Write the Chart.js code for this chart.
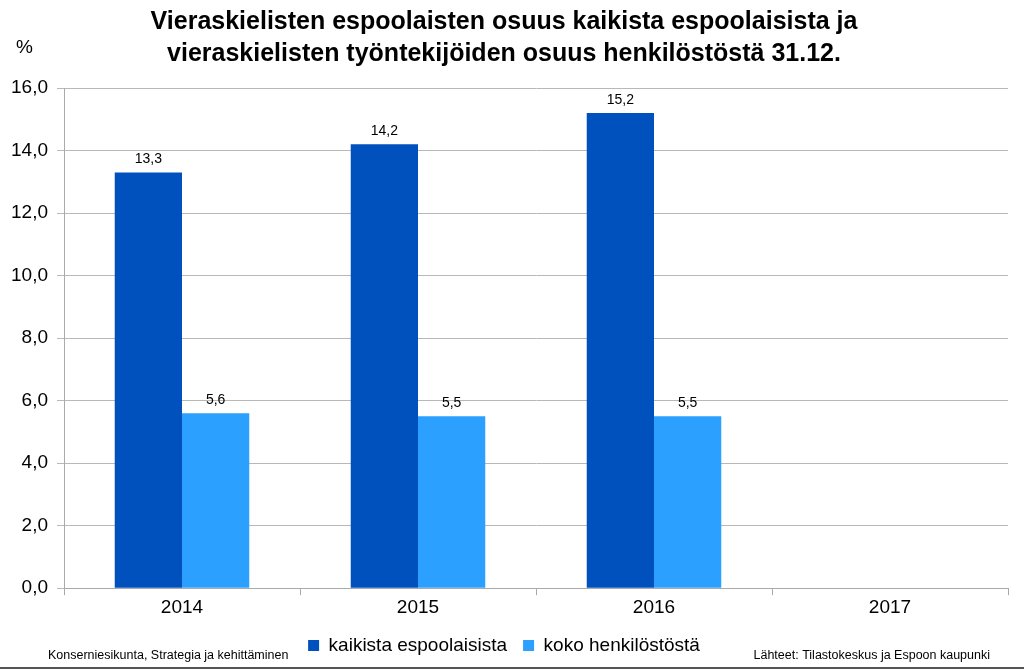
<!DOCTYPE html>
<html lang="fi">
<head>
<meta charset="UTF-8">
<title>Vieraskieliset Espoossa</title>
<script src="https://cdn.jsdelivr.net/npm/chart.js"></script>
<style>
  html, body { margin: 0; padding: 0; background: #fff; }
  #wrap { width: 1024px; height: 670px; position: relative; }
</style>
</head>
<body>
<div id="wrap"><canvas id="myChart" width="1024" height="670"></canvas></div>
<script>
const years = ['2014', '2015', '2016', '2017'];
const allResidents = [13.3, 14.2, 15.2, null];
const staff = [5.6, 5.5, 5.5, null];
const seriesNames = ['kaikista espoolaisista', 'koko henkilöstöstä'];
const titleLines = [
    'Vieraskielisten espoolaisten osuus kaikista espoolaisista ja',
    'vieraskielisten työntekijöiden osuus henkilöstöstä 31.12.'
];
const footLeft = 'Konserniesikunta, Strategia ja kehittäminen';
const footRight = 'Lähteet: Tilastokeskus ja Espoon kaupunki';

const FONT = '"Liberation Sans", Arial, sans-serif';
const fmt = v => v.toFixed(1).replace('.', ',');

// labels above bars, plus the footer texts and % sign
const extras = {
    id: 'extras',
    afterDatasetsDraw(chart) {
        const ctx = chart.ctx;
        ctx.save();
        ctx.fillStyle = '#000';
        ctx.font = '14px ' + FONT;
        ctx.textAlign = 'center';
        ctx.textBaseline = 'bottom';
        chart.data.datasets.forEach((ds, i) => {
            chart.getDatasetMeta(i).data.forEach((bar, j) => {
                if (ds.data[j] == null) return;
                ctx.fillText(fmt(ds.data[j]), bar.x, bar.y - 6);
            });
        });
        ctx.restore();
    },
    afterDraw(chart) {
        const ctx = chart.ctx;
        ctx.save();
        ctx.fillStyle = '#000';
        ctx.font = '19px ' + FONT;
        ctx.textAlign = 'left';
        ctx.textBaseline = 'middle';
        ctx.fillText('%', 16, 48);
        ctx.font = '12.5px ' + FONT;
        ctx.fillText(footLeft, 48, 656);
        ctx.textAlign = 'right';
        ctx.fillText(footRight, 990, 656);
        ctx.strokeStyle = '#555';
        ctx.lineWidth = 2;
        ctx.beginPath();
        ctx.moveTo(0, 668);
        ctx.lineTo(1024, 668);
        ctx.stroke();
        ctx.restore();
    }
};

new Chart(document.getElementById('myChart'), {
    type: 'bar',
    data: {
        labels: years,
        datasets: [{
            label: seriesNames[0],
            data: allResidents,
            backgroundColor: '#0050be'
        }, {
            label: seriesNames[1],
            data: staff,
            backgroundColor: '#2ba0ff'
        }]
    },
    options: {
        responsive: false,
        animation: false,
        categoryPercentage: 0.57,
        barPercentage: 1.0,
        layout: { padding: { left: 0, right: 16, top: 0, bottom: 5 } },
        plugins: {
            title: {
                display: true,
                text: titleLines,
                color: '#000',
                font: { family: FONT, size: 25, weight: 'bold', lineHeight: 1.28 },
                padding: { top: 6, bottom: 18 }
            },
            legend: {
                position: 'bottom',
                labels: {
                    color: '#000',
                    boxWidth: 11,
                    boxHeight: 11,
                    padding: 16,
                    font: { family: FONT, size: 19 }
                }
            },
            tooltip: { enabled: false }
        },
        scales: {
            x: {
                grid: {
                    drawOnChartArea: false,
                    drawTicks: true,
                    tickLength: 7,
                    color: '#aaa'
                },
                border: { color: '#aaa' },
                ticks: {
                    color: '#000',
                    padding: 1,
                    font: { family: FONT, size: 19 }
                }
            },
            y: {
                min: 0,
                max: 16,
                ticks: {
                    stepSize: 2,
                    color: '#000',
                    padding: 9,
                    callback: v => fmt(v),
                    font: { family: FONT, size: 19 }
                },
                grid: { color: '#b8b8b8', tickLength: 7 },
                border: { color: '#aaa' },
                afterFit(scale) { scale.width = 64; }
            }
        }
    },
    plugins: [extras]
});
</script>
</body>
</html>
